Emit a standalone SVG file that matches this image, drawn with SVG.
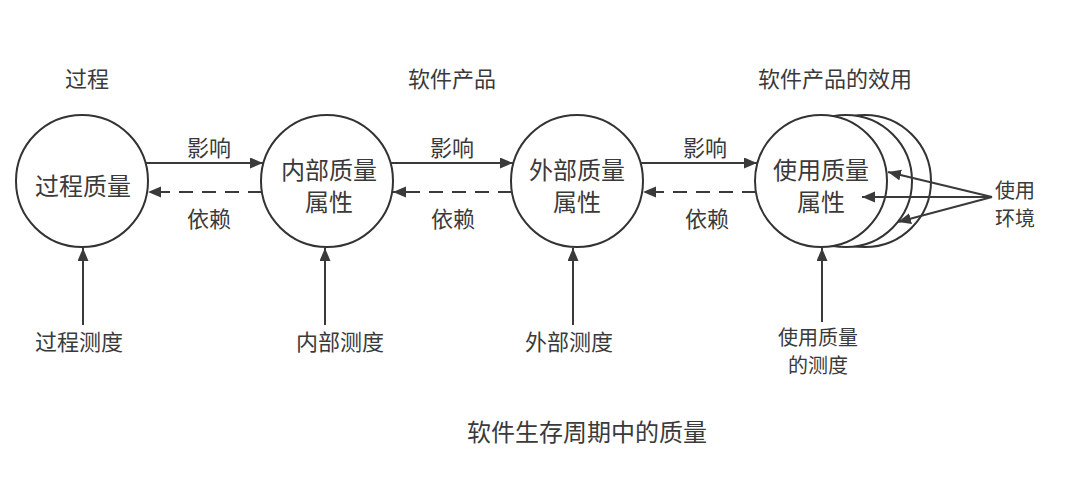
<svg xmlns="http://www.w3.org/2000/svg" width="1077" height="477" viewBox="0 0 1077 477">
<style>
  text { font-family: "Noto Sans CJK SC", "Noto Sans", sans-serif; fill: #3a3a3a; text-anchor: middle; dominant-baseline: central; }
  .t22 { font-size: 22px; }
  .t20 { font-size: 20px; }
  .t24 { font-size: 24px; }
  .node circle { fill: #fff; stroke: #333; stroke-width: 2; }
  .conn line { stroke: #3a3a3a; stroke-width: 2; fill: none; }
  .dash { stroke-dasharray: 14 9; }
</style>
<defs>
  <marker id="ah" markerUnits="userSpaceOnUse" markerWidth="14" markerHeight="12" refX="13" refY="5.5" orient="auto">
    <path d="M0,0 L13,5.5 L0,11 z" fill="#3a3a3a"/>
  </marker>
</defs>
<rect width="1077" height="477" fill="#fff"/>

<g id="titles">
  <text class="t22" x="87" y="77">过程</text>
  <text class="t22" x="452" y="77">软件产品</text>
  <text class="t22" x="835" y="77">软件产品的效用</text>
</g>

<g id="node-process" class="node">
  <circle cx="82" cy="181" r="66"/>
  <text class="t24" x="83" y="184">过程质量</text>
</g>
<g id="node-internal" class="node">
  <circle cx="327" cy="181" r="66"/>
  <text class="t24"><tspan x="329" y="168">内部质量</tspan><tspan x="329" y="200">属性</tspan></text>
</g>
<g id="node-external" class="node">
  <circle cx="577" cy="181" r="66"/>
  <text class="t24"><tspan x="577" y="168">外部质量</tspan><tspan x="577" y="200">属性</tspan></text>
</g>
<g id="node-use" class="node">
  <circle cx="865" cy="181" r="66"/>
  <circle cx="846" cy="181" r="66"/>
  <circle cx="821" cy="181" r="66"/>
  <text class="t24"><tspan x="821" y="168">使用质量</tspan><tspan x="821" y="200">属性</tspan></text>
</g>

<g id="node-env">
  <text class="t20"><tspan x="1015" y="189">使用</tspan><tspan x="1015" y="217">环境</tspan></text>
</g>

<g id="measures">
  <text class="t22" x="79" y="340">过程测度</text>
  <text class="t22" x="340" y="340">内部测度</text>
  <text class="t22" x="569" y="340">外部测度</text>
  <text class="t20"><tspan x="818" y="336">使用质量</tspan><tspan x="818" y="364">的测度</tspan></text>
</g>

<g id="connectors" class="conn">
  <line x1="146" y1="163" x2="263" y2="163" marker-end="url(#ah)"/>
  <line class="dash" x1="262" y1="192" x2="148" y2="192" marker-end="url(#ah)"/>
  <line x1="391" y1="163" x2="513" y2="163" marker-end="url(#ah)"/>
  <line class="dash" x1="512" y1="192" x2="393" y2="192" marker-end="url(#ah)"/>
  <line x1="641" y1="163" x2="757" y2="163" marker-end="url(#ah)"/>
  <line class="dash" x1="756" y1="192" x2="643" y2="192" marker-end="url(#ah)"/>

  <line x1="83" y1="325" x2="83" y2="248" marker-end="url(#ah)"/>
  <line x1="325" y1="325" x2="325" y2="248" marker-end="url(#ah)"/>
  <line x1="573" y1="325" x2="573" y2="248" marker-end="url(#ah)"/>
  <line x1="822" y1="322" x2="822" y2="248" marker-end="url(#ah)"/>

  <line x1="992" y1="197" x2="888" y2="172" marker-end="url(#ah)"/>
  <line x1="992" y1="197" x2="862" y2="197" marker-end="url(#ah)"/>
  <line x1="992" y1="197" x2="898" y2="222" marker-end="url(#ah)"/>
</g>

<g id="labels">
  <text class="t22" x="209" y="146">影响</text>
  <text class="t22" x="209" y="217">依赖</text>
  <text class="t22" x="452" y="146">影响</text>
  <text class="t22" x="453" y="217">依赖</text>
  <text class="t22" x="705" y="146">影响</text>
  <text class="t22" x="707" y="217">依赖</text>
</g>

<g id="caption">
  <text class="t24" x="587" y="430">软件生存周期中的质量</text>
</g>
</svg>
